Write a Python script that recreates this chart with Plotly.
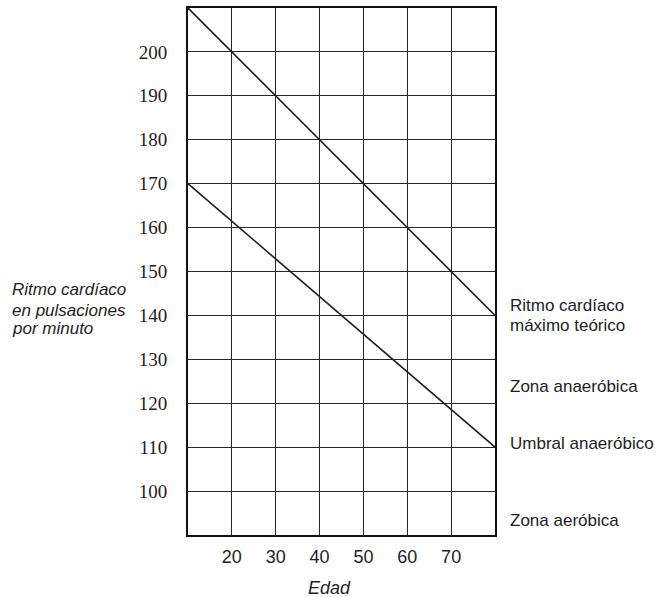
import plotly.graph_objects as go

# Data
edad = [10, 80]
ritmo_max = [210, 140]          # Ritmo cardíaco máximo teórico
umbral = [170, 110]             # Umbral anaeróbico
x_ticks = [20, 30, 40, 50, 60, 70]
y_ticks = [100, 110, 120, 130, 140, 150, 160, 170, 180, 190, 200]
right_labels = ["Ritmo cardíaco", "máximo teórico", "Zona anaeróbica",
                "Umbral anaeróbico", "Zona aeróbica"]
right_label_y = [142.3, 137.8, 123.8, 110.8, 93.4]
left_title = ["Ritmo cardíaco", "en pulsaciones", "por minuto"]
left_title_y = [145.9, 141.2, 137.1]

SANS = "Liberation Sans, Arial, sans-serif"
SERIF = "Liberation Serif, Times New Roman, serif"
INK = "#1e1e1e"

fig = go.Figure()
fig.add_trace(go.Scatter(x=edad, y=ritmo_max, mode="lines",
                         line=dict(color=INK, width=1.6),
                         showlegend=False, hoverinfo="skip"))
fig.add_trace(go.Scatter(x=edad, y=umbral, mode="lines",
                         line=dict(color=INK, width=1.6),
                         showlegend=False, hoverinfo="skip"))

for txt, yy in zip(right_labels, right_label_y):
    fig.add_annotation(x=1.0, xref="paper", y=yy, yref="y", text=txt,
                       showarrow=False, xanchor="left", yanchor="middle",
                       xshift=13, align="left",
                       font=dict(family=SANS, size=17, color=INK))

for txt, yy in zip(left_title, left_title_y):
    fig.add_annotation(x=-0.58, xref="paper", y=yy, yref="y",
                       text="<i>" + txt + "</i>",
                       showarrow=False, xanchor="left", yanchor="middle", align="left",
                       font=dict(family=SANS, size=17, color=INK))

fig.add_annotation(x=0.4625, xref="paper", y=-0.1, yref="paper",
                   text="<i>Edad</i>", showarrow=False,
                   xanchor="center", yanchor="middle",
                   font=dict(family=SANS, size=18, color=INK))

fig.update_layout(
    width=657, height=597,
    margin=dict(l=188, r=162, t=6, b=62),
    paper_bgcolor="white", plot_bgcolor="white",
    xaxis=dict(range=[10, 80], tickvals=x_ticks, ticktext=[str(v) for v in x_ticks],
               showgrid=True, gridcolor="#262626", gridwidth=1.4,
               showline=True, linecolor="#111", linewidth=2, mirror=True,
               zeroline=False, ticks="", ticklabelstandoff=4,
               tickfont=dict(family=SANS, size=18, color=INK)),
    yaxis=dict(range=[90, 210], tickvals=y_ticks, ticktext=[str(v) for v in y_ticks],
               showgrid=True, gridcolor="#262626", gridwidth=1.4,
               showline=True, linecolor="#111", linewidth=2, mirror=True,
               zeroline=False, ticks="", ticklabelstandoff=15,
               tickfont=dict(family=SERIF, size=19, color=INK)),
)

fig.write_html("out.html", config={"displayModeBar": False},
               post_script="document.body.style.margin='0';")
